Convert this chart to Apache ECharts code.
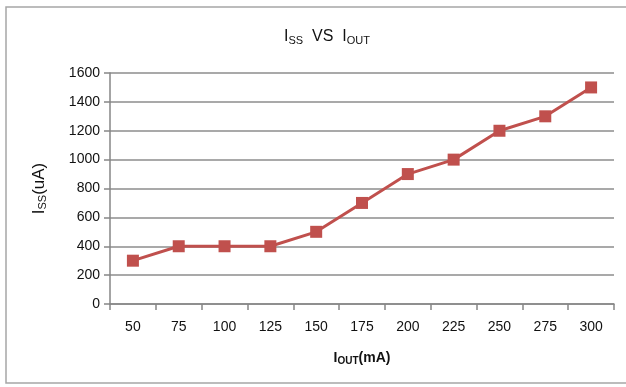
<!DOCTYPE html>
<html><head><meta charset="utf-8">
<script src="https://cdn.jsdelivr.net/npm/echarts@6/dist/echarts.min.js"></script>
<style>html,body{margin:0;padding:0;background:#fff}#c{width:626px;height:387px}</style>
</head><body><div id="c"></div>
<script>
const categories = ['50','75','100','125','150','175','200','225','250','275','300'];
const issValues = [300, 400, 400, 400, 500, 700, 900, 1000, 1200, 1300, 1500];
const yTicks = {min: 0, max: 1600, interval: 200};

const chart = echarts.init(document.getElementById('c'));
const font = 'Liberation Sans, Arial, sans-serif';
chart.setOption({
  animation: false,
  backgroundColor: '#fff',
  graphic: [{
    type: 'rect', shape: {x: 6, y: 7, width: 640, height: 376},
    style: {fill: 'none', stroke: '#a6a6a6', lineWidth: 1.5}, silent: true
  }],
  title: {
    text: 'I{s|SS}  VS  I{s|OUT}',
    left: 322, top: 22, textAlign: 'center',
    textStyle: {
      fontFamily: font, fontSize: 16, fontWeight: 'normal', color: '#111',
      rich: {s: {fontSize: 11, fontFamily: font, color: '#111', padding: [8, 0, 0, 0]}}
    }
  },
  grid: {left: 110, right: 12, top: 73, bottom: 83, containLabel: false},
  xAxis: {
    type: 'category', data: categories, boundaryGap: true,
    axisLine: {lineStyle: {color: '#868686', width: 1.5}},
    axisTick: {show: true, length: 6, lineStyle: {color: '#868686', width: 1.5}},
    axisLabel: {color: '#111', fontSize: 14, fontFamily: font, margin: 16},
    name: 'I{s|OUT}(mA)', nameLocation: 'middle', nameGap: 46,
    nameTextStyle: {
      fontFamily: font, fontSize: 14, fontWeight: 'bold', color: '#111',
      rich: {s: {fontSize: 10, fontWeight: 'bold', fontFamily: font, color: '#111', padding: [6, 0, 0, 0]}}
    }
  },
  yAxis: {
    type: 'value', min: yTicks.min, max: yTicks.max, interval: yTicks.interval,
    axisLine: {show: true, lineStyle: {color: '#868686', width: 1.5}},
    axisTick: {show: true, length: 6, lineStyle: {color: '#868686', width: 1.5}},
    axisLabel: {color: '#111', fontSize: 14, fontFamily: font, margin: 10, formatter: v => String(v)},
    splitLine: {lineStyle: {color: '#8c8c8c', width: 1.5}},
    name: 'I{s|SS}(uA)', nameLocation: 'middle', nameGap: 62, nameRotate: 90,
    nameTextStyle: {
      fontFamily: font, fontSize: 17, fontWeight: 'normal', color: '#111',
      rich: {s: {fontSize: 11, fontWeight: 'normal', fontFamily: font, color: '#111', padding: [7, 0, 0, 0]}}
    }
  },
  series: [{
    type: 'line', data: issValues,
    symbol: 'rect', symbolSize: 12,
    lineStyle: {color: '#c0504d', width: 3},
    itemStyle: {color: '#c0504d'}
  }]
});
</script></body></html>
